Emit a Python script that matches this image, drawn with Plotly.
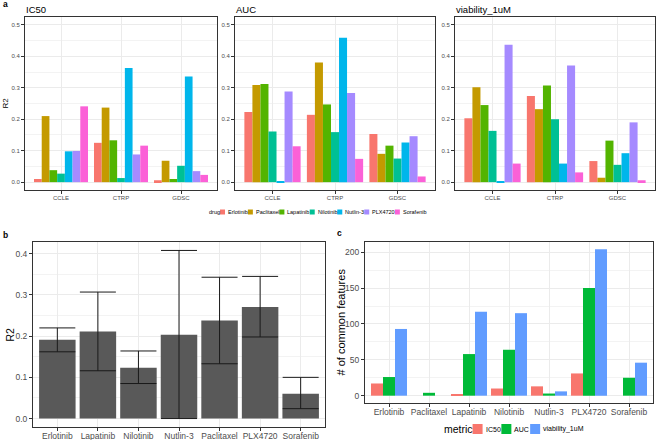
import plotly.graph_objects as go

W, H = 658, 440
FONT = "Liberation Sans, Arial, sans-serif"
TXT = "#4D4D4D"
GRID = "#EBEBEB"
BORDER = "#333333"

# ---------------- data ----------------
drugs = ["Erlotinib", "Paclitaxel", "Lapatinib", "Nilotinib", "Nutlin-3", "PLX4720", "Sorafenib"]
drug_colors = ["#F8766D", "#C49A00", "#53B400", "#00C094", "#00B6EB", "#A58AFF", "#FB61D7"]
sources = ["CCLE", "CTRP", "GDSC"]
facet_titles = ["IC50", "AUC", "viability_1uM"]

# panel a: R2 per drug (drug order above), one list per metric x source
ic50_ccle = [0.010, 0.210, 0.038, 0.027, 0.098, 0.099, 0.241]
ic50_ctrp = [0.125, 0.237, 0.133, 0.013, 0.363, 0.088, 0.116]
ic50_gdsc = [0.006, 0.068, 0.010, 0.052, 0.336, 0.035, 0.023]
auc_ccle = [0.223, 0.309, 0.312, 0.161, 0.002, 0.288, 0.114]
auc_ctrp = [0.214, 0.380, 0.247, 0.159, 0.459, 0.283, 0.074]
auc_gdsc = [0.153, 0.090, 0.116, 0.075, 0.126, 0.146, 0.018]
via_ccle = [0.203, 0.302, 0.245, 0.163, 0.003, 0.437, 0.059]
via_ctrp = [0.274, 0.232, 0.307, 0.200, 0.059, 0.371, 0.031]
via_gdsc = [0.067, 0.014, 0.132, 0.055, 0.092, 0.190, 0.006]

# panel b
b_drugs = ["Erlotinib", "Lapatinib", "Nilotinib", "Nutlin-3", "Paclitaxel", "PLX4720", "Sorafenib"]
b_mean = [0.191, 0.211, 0.1235, 0.2035, 0.238, 0.271, 0.0605]
b_upper = [0.220, 0.307, 0.164, 0.408, 0.343, 0.345, 0.100]
b_lower = [0.162, 0.116, 0.085, 0.000, 0.133, 0.198, 0.024]

# panel c
c_drugs = ["Erlotinib", "Paclitaxel", "Lapatinib", "Nilotinib", "Nutlin-3", "PLX4720", "Sorafenib"]
metrics = ["IC50", "AUC", "viability_1uM"]
metric_colors = ["#F8766D", "#00BA38", "#619CFF"]
c_ic50 = [17, 0, 1, 10, 13, 31, 0]
c_auc = [26, 4, 58, 64, 3, 150, 25]
c_via = [93, 0, 117, 115, 6, 204, 46]

# ---------------- helpers ----------------
def xd(a, b):
    return [a / W, b / W]

def yd(top, bottom):
    return [1 - bottom / H, 1 - top / H]

def px(x):
    return x / W

def py(y):
    return 1 - y / H

AW = {"a": 556, "b": 556, "c": 500, "d": 556, "e": 556, "f": 278, "g": 556, "i": 222, "l": 222,
      "m": 833, "n": 556, "o": 556, "p": 556, "r": 333, "s": 500, "t": 278, "u": 556, "v": 500,
      "x": 500, "y": 500, "_": 556, "-": 333, "E": 667, "P": 667, "L": 556, "N": 722, "X": 667,
      "S": 667, "I": 278, "C": 722, "A": 667, "U": 722, "M": 833}

def tw(s, size):
    return sum(AW.get(ch, 556) for ch in s) / 1000.0 * size

fig = go.Figure()

# ---------------- panel a ----------------
a_data = [[ic50_ccle, ic50_ctrp, ic50_gdsc],
          [auc_ccle, auc_ctrp, auc_gdsc],
          [via_ccle, via_ctrp, via_gdsc]]
for f in range(3):
    for d, drug in enumerate(drugs):
        vals = [a_data[f][s][d] for s in range(3)]
        fig.add_trace(go.Bar(
            x=sources, y=vals, name=drug, marker_color=drug_colors[d],
            marker_line_width=0, offsetgroup=drug, showlegend=False,
            xaxis="x" if f == 0 else f"x{f+1}", yaxis="y" if f == 0 else f"y{f+1}",
        ))

# ---------------- panel b ----------------
fig.add_trace(go.Bar(
    x=b_drugs, y=b_mean, marker_color="#595959", marker_line_width=0, showlegend=False,
    error_y=dict(type="data", symmetric=False,
                 array=[u - m for u, m in zip(b_upper, b_mean)],
                 arrayminus=[m - l for m, l in zip(b_mean, b_lower)],
                 color="#1a1a1a", thickness=1, width=18),
    xaxis="x4", yaxis="y4",
))

# ---------------- panel c ----------------
for vals, name, col in zip([c_ic50, c_auc, c_via], metrics, metric_colors):
    fig.add_trace(go.Bar(
        x=c_drugs, y=vals, name=name, marker_color=col, marker_line_width=0,
        offsetgroup=name, showlegend=False, xaxis="x5", yaxis="y5",
    ))

# ---------------- axes ----------------
def xax(domain, anchor, n, size, standoff=0):
    return dict(domain=domain, anchor=anchor, type="category", range=[-0.6, n - 0.4],
                showline=True, mirror=True, linecolor=BORDER, linewidth=1,
                ticks="outside", ticklen=3, tickwidth=1, tickcolor=BORDER,
                showgrid=True, gridcolor=GRID, gridwidth=1, zeroline=False,
                ticklabelstandoff=standoff,
                tickfont=dict(family=FONT, size=size, color=TXT), fixedrange=True)

def yax(domain, anchor, rng, dtick, minor, fmt, size):
    return dict(domain=domain, anchor=anchor, range=rng, dtick=dtick, tick0=0,
                tickformat=fmt, showline=True, mirror=True, linecolor=BORDER, linewidth=1,
                ticks="outside", ticklen=3, tickwidth=1, tickcolor=BORDER,
                showgrid=True, gridcolor=GRID, gridwidth=1, zeroline=False,
                minor=dict(showgrid=True, gridcolor="#F3F3F3", gridwidth=0.6, dtick=minor, tick0=0),
                tickfont=dict(family=FONT, size=size, color=TXT), fixedrange=True)

a_top, a_bot = 17, 190
facet_x = [(25, 217), (235, 435), (455, 655)]
layout_axes = {}
for i, (l, r) in enumerate(facet_x):
    sfx = "" if i == 0 else str(i + 1)
    layout_axes[f"xaxis{sfx}"] = xax(xd(l, r), f"y{sfx}", 3, 6, -1)
    layout_axes[f"yaxis{sfx}"] = yax(yd(a_top, a_bot), f"x{sfx}", [-0.025, 0.525], 0.1, 0.05, ".1f", 6)

layout_axes["xaxis4"] = xax(xd(33, 325), "y4", 7, 8.5, -2)
layout_axes["yaxis4"] = yax(yd(242, 427), "x4", [-0.0205, 0.4285], 0.1, 0.05, ".1f", 8.5)
layout_axes["xaxis5"] = xax(xd(365, 653), "y5", 7, 8.5, -2)
layout_axes["yaxis5"] = yax(yd(242, 403), "x5", [-10.2, 214.2], 50, 25, "d", 8.5)

annotations = []
shapes = []

def note(text, x, y, size, color="black", xanchor="left", yanchor="middle", angle=0, bold=False):
    annotations.append(dict(text=f"<b>{text}</b>" if bold else text, x=px(x), y=py(y),
                            xref="paper", yref="paper", showarrow=False,
                            xanchor=xanchor, yanchor=yanchor, textangle=angle,
                            font=dict(family=FONT, size=size, color=color)))

# panel labels
note("a", 1, 4, 8.5, bold=True)
note("b", 1, 235, 8.5, bold=True)
note("c", 335, 233, 8.5, bold=True)

# facet titles
for (l, r), t in zip(facet_x, facet_titles):
    note(t, l - 1, 10, 9.5)

# axis titles
note("R2", 5, (a_top + a_bot) / 2, 8, xanchor="center", angle=-90)
note("R2", 9, (242 + 427) / 2, 10.5, xanchor="center", angle=-90)
note("# of common features", 340, (242 + 403) / 2, 11, xanchor="center", angle=-90)

# drug legend (panel a)
lx, ly = 207, 212
note("drug", lx, ly, 5.5)
lx += tw("drug", 5.5) + 2
for drug, col in zip(drugs, drug_colors):
    shapes.append(dict(type="rect", xref="paper", yref="paper", x0=px(lx), x1=px(lx + 5),
                       y0=py(ly + 2.5), y1=py(ly - 2.5), fillcolor=col, line=dict(width=0)))
    lx += 6
    note(drug, lx, ly, 5.5, color="black")
    lx += tw(drug, 5.5) + 2

# metric legend (panel c)
mx, my = 442, 429
note("metric", mx, my, 10.5)
mx += tw("metric", 10.5) + 2
for m, col in zip(metrics, metric_colors):
    shapes.append(dict(type="rect", xref="paper", yref="paper", x0=px(mx), x1=px(mx + 10),
                       y0=py(my + 5), y1=py(my - 5), fillcolor=col, line=dict(width=0)))
    mx += 11
    note(m, mx, my, 7)
    mx += tw(m, 7) + 3

fig.update_layout(
    width=W, height=H, margin=dict(l=0, r=0, t=0, b=0),
    paper_bgcolor="white", plot_bgcolor="white",
    barmode="group", bargap=0.1, bargroupgap=0,
    showlegend=False, annotations=annotations, shapes=shapes,
    font=dict(family=FONT),
    **layout_axes,
)

fig.write_html("out.html", config={"displayModeBar": False},
               post_script="document.body.style.margin='0';document.body.style.overflow='hidden';")
